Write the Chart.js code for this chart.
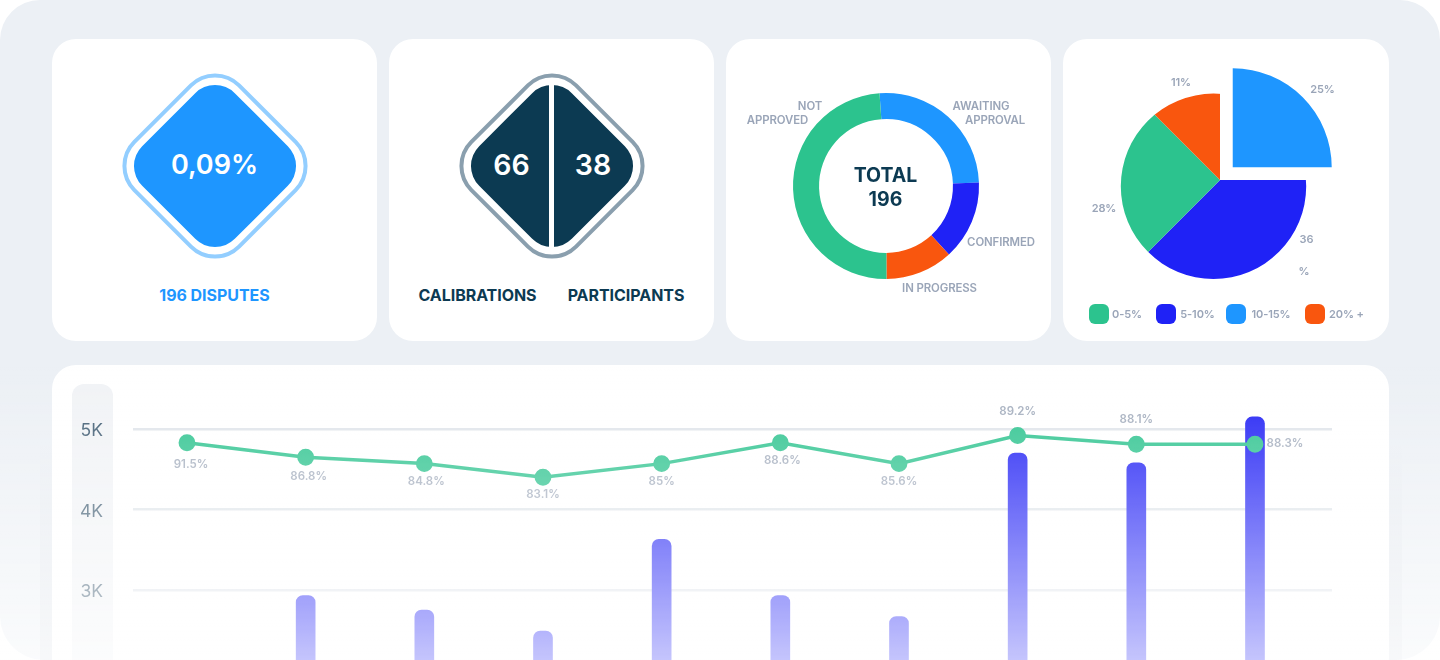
<!DOCTYPE html>
<html>
<head>
<meta charset="utf-8">
<title>Disputes dashboard</title>
<script src="https://cdn.jsdelivr.net/npm/chart.js@4"></script>
<style>
    html, body { margin: 0; padding: 0; width: 1440px; height: 660px; overflow: hidden; background: #fff; }
    body { position: relative; font-family: Inter, sans-serif; }
    .panel { position: absolute; left: 0; top: 0; width: 1440px; height: 660px; background: #ecf0f5; border-radius: 40px 40px 44px 44px; }
    .band { position: absolute; left: 40px; top: 440px; width: 1362px; height: 220px;
            background: linear-gradient(to bottom, rgba(100,110,130,0), rgba(100,110,130,0.09)); }
    .card { position: absolute; background: #fff; border-radius: 24px; }
    .diamond { position: absolute; transform: translate(-50%, -50%) rotate(45deg); box-sizing: border-box; }
    .split { position: absolute; left: 549.2px; top: 80px; width: 4.6px; height: 170px; background: #fff; }
    .txt { position: absolute; transform: translate(-50%, -50%); white-space: nowrap; }
    .big { font-size: 27px; font-weight: 600; color: #fff; }
    .big.count { font-size: 28.5px; }
    .name { font-size: 16px; font-weight: 700; letter-spacing: -0.05px; }
    .small { font-size: 11.4px; font-weight: 600; color: #9aa5b8; letter-spacing: -0.1px; }
    .small.pie { font-size: 11px; }
    .total { font-size: 19.5px; font-weight: 700; color: #0c3a52; line-height: 24px; text-align: center; }
    .swatch { position: absolute; width: 20px; height: 20px; border-radius: 6px; }
    .strip { position: absolute; left: 72px; top: 384px; width: 41px; height: 320px; background: #f1f3f6; border-radius: 12px 12px 0 0; }
    canvas { position: absolute; }
    .fade { position: absolute; left: 0; top: 365px; width: 1440px; height: 295px; pointer-events: none;
            background: linear-gradient(to bottom, rgba(255,255,255,0), rgba(255,255,255,0.74)); }
</style>
</head>
<body>
<div class="panel"></div>
<div class="band"></div>
<div class="card" style="left:52px;top:39px;width:325px;height:302px"></div>
<div class="card" style="left:389px;top:39px;width:325px;height:302px"></div>
<div class="card" style="left:726px;top:39px;width:325px;height:302px"></div>
<div class="card" style="left:1063px;top:39px;width:326px;height:302px"></div>
<div class="card" style="left:52px;top:365px;width:1337px;height:400px"></div>

<div class="diamond" style="left:214.5px;top:165.5px;width:152px;height:152px;border:4px solid #93ceff;border-radius:36px"></div>
<div class="diamond" style="left:214.5px;top:165.5px;width:131px;height:131px;background:#1e96ff;border-radius:28px"></div>
<div class="txt big" style="left:214.5px;top:164px">0,09%</div>
<div class="txt name" style="left:214.5px;top:295px;color:#1e96ff">196 DISPUTES</div>

<div class="diamond" style="left:551.5px;top:165.5px;width:152px;height:152px;border:4px solid #8a9fae;border-radius:36px"></div>
<div class="diamond" style="left:551.5px;top:165.5px;width:131px;height:131px;background:#0c3a52;border-radius:28px"></div>
<div class="split"></div>
<div class="txt big count" style="left:511.5px;top:164px">66</div>
<div class="txt big count" style="left:593px;top:164px">38</div>
<div class="txt name" style="left:477.5px;top:295px;color:#0c3a52">CALIBRATIONS</div>
<div class="txt name" style="left:626px;top:295px;color:#0c3a52">PARTICIPANTS</div>

<canvas id="grafico-estado" width="260" height="260" style="left:756px;top:56px;width:260px;height:260px"></canvas>
<div class="txt total" style="left:885.5px;top:187px">TOTAL<br>196</div>
<div class="txt small" style="left:810px;top:106px">NOT</div>
<div class="txt small" style="left:777.5px;top:120px">APPROVED</div>
<div class="txt small" style="left:981px;top:106px">AWAITING</div>
<div class="txt small" style="left:995px;top:120px">APPROVAL</div>
<div class="txt small" style="left:1001px;top:242px">CONFIRMED</div>
<div class="txt small" style="left:939.5px;top:288px">IN PROGRESS</div>

<canvas id="grafico-tramos" width="300" height="300" style="left:1070px;top:30px;width:300px;height:300px"></canvas>
<div class="txt small pie" style="left:1322.5px;top:88.5px">25%</div>
<div class="txt small pie" style="left:1181px;top:82px">11%</div>
<div class="txt small pie" style="left:1104px;top:208px">28%</div>
<div class="txt small pie" style="left:1306.5px;top:238.5px">36</div>
<div class="txt small pie" style="left:1304px;top:271px">%</div>
<div id="leyenda-tramos"></div>

<div class="strip"></div>
<canvas id="grafico-mensual" width="1337" height="480" style="left:52px;top:365px;width:1337px;height:480px"></canvas>
<div class="fade"></div>

<script>
// Doughnut: counts behind "TOTAL 196", clockwise from the top
const estadoValores = [50, 27, 23, 96];
const estadoColores = ['#1e96ff', '#1f22f6', '#f9560e', '#2cc38e'];

// Pie: slice sizes as drawn in the picture, clockwise from the top
// (the printed percentages are the html labels, they do not quite match the drawing)
const tramosValores = [25, 37.5, 25, 12.5];
const tramosColores = ['#1e96ff', '#1f22f6', '#2cc38e', '#f9560e'];
const tramosOffset = [72, 0, 0, 0];

// Pie legend
const leyendaNombres = ['0-5%', '5-10%', '10-15%', '20% +'];
const leyendaColores = ['#2cc38e', '#1f22f6', '#1e96ff', '#f9560e'];
const leyendaSwatchX = [1089, 1156, 1226, 1305];
const leyendaTextoX = [1127, 1197.5, 1271, 1346.5];

// Bottom chart, values in thousands
const periodos = [1, 2, 3, 4, 5, 6, 7, 8, 9, 10];
const barrasValores = [1.9, 2.93, 2.75, 2.49, 3.63, 2.93, 2.67, 4.7, 4.58, 5.15];
const lineaValores = [4.83, 4.65, 4.57, 4.4, 4.57, 4.83, 4.57, 4.92, 4.81, 4.81];
const lineaEtiquetas = ['91.5%', '86.8%', '84.8%', '83.1%', '85%', '88.6%', '85.6%', '89.2%', '88.1%', '88.3%'];
const lineaEtiquetasDesp = [[4, 22], [3, 19], [2, 18], [0, 17], [0, 18], [2, 18], [0, 18], [0, -24], [0, -25], [30, -1]];
const ejeYMarcas = [1, 2, 3, 4, 5];

Chart.defaults.font.family = 'Inter, sans-serif';
Chart.defaults.animation = false;
Chart.defaults.plugins.legend.display = false;
Chart.defaults.plugins.tooltip.enabled = false;

// Legend is plain html under the pie
const leyenda = document.getElementById('leyenda-tramos');
leyendaNombres.forEach((nombre, i) => {
    const swatch = document.createElement('div');
    swatch.className = 'swatch';
    swatch.style.left = leyendaSwatchX[i] + 'px';
    swatch.style.top = '304px';
    swatch.style.background = leyendaColores[i];
    leyenda.appendChild(swatch);
    const texto = document.createElement('div');
    texto.className = 'txt small pie';
    texto.style.left = leyendaTextoX[i] + 'px';
    texto.style.top = '314px';
    texto.textContent = nombre;
    leyenda.appendChild(texto);
});

new Chart(document.getElementById('grafico-estado'), {
    type: 'doughnut',
    data: {
        labels: ['AWAITING APPROVAL', 'CONFIRMED', 'IN PROGRESS', 'NOT APPROVED'],
        datasets: [{ data: estadoValores, backgroundColor: estadoColores, borderWidth: 0 }]
    },
    options: { responsive: false, rotation: -4, radius: 93, cutout: '72%' }
});

// In the reference the three joined slices meet off centre: their rim is a
// smaller circle than their wedges, so the wedges are oversized and clipped to it.
const recortarTramos = {
    id: 'recortarTramos',
    afterDatasetsUpdate(chart) {
        chart.getDatasetMeta(0).data[0].outerRadius = 99;
    },
    beforeDatasetDraw(chart) {
        const ctx = chart.ctx;
        ctx.save();
        ctx.beginPath();
        ctx.arc(143.5, 156.3, 92.7, 0, Math.PI * 2);
        ctx.rect(162, 30, 110, 108);
        ctx.clip();
    },
    afterDatasetDraw(chart) {
        chart.ctx.restore();
    }
};

new Chart(document.getElementById('grafico-tramos'), {
    type: 'pie',
    data: {
        labels: ['10-15%', '5-10%', '0-5%', '20% +'],
        datasets: [{ data: tramosValores, backgroundColor: tramosColores, offset: tramosOffset, borderWidth: 0 }]
    },
    options: { responsive: false, radius: 112 },
    plugins: [recortarTramos]
});

// Percent labels next to the line points
const etiquetasLinea = {
    id: 'etiquetasLinea',
    afterDatasetsDraw(chart) {
        const ctx = chart.ctx;
        const puntos = chart.getDatasetMeta(1).data;
        ctx.save();
        ctx.font = '600 11.5px Inter, sans-serif';
        ctx.fillStyle = '#a3adbd';
        ctx.textAlign = 'center';
        ctx.textBaseline = 'middle';
        puntos.forEach((punto, i) => {
            const desp = lineaEtiquetasDesp[i];
            ctx.fillText(lineaEtiquetas[i], punto.x + desp[0], punto.y + desp[1]);
        });
        ctx.restore();
    }
};

new Chart(document.getElementById('grafico-mensual'), {
    data: {
        datasets: [
            {
                type: 'bar',
                data: periodos.map((p, i) => ({ x: p, y: barrasValores[i] })),
                backgroundColor: '#2020f5',
                barThickness: 19,
                borderRadius: { topLeft: 7, topRight: 7 },
                borderSkipped: 'bottom',
                order: 2
            },
            {
                type: 'line',
                data: periodos.map((p, i) => ({ x: p, y: lineaValores[i] })),
                borderColor: '#2cc38e',
                backgroundColor: '#2cc38e',
                borderWidth: 3.5,
                pointRadius: 6.7,
                tension: 0,
                order: 1
            }
        ]
    },
    options: {
        responsive: false,
        layout: { autoPadding: false, padding: { top: 23.75, bottom: 13.5, right: 57, left: 0 } },
        scales: {
            x: { type: 'linear', display: false, offset: false, min: 0.545, max: 10.649 },
            y: {
                min: 0,
                max: 5.5,
                afterBuildTicks(axis) { axis.ticks = ejeYMarcas.map(value => ({ value })); },
                afterFit(axis) {
                    axis.width = 81;
                    axis.paddingTop = 0;
                    axis.paddingBottom = 0;
                },
                border: { display: false },
                grid: { color: '#dfe4ea', lineWidth: 2.5, drawTicks: false },
                ticks: {
                    padding: 30,
                    labelOffset: 2,
                    color: '#3d5a70',
                    font: { size: 17.5, weight: '400' },
                    callback: value => value + 'K'
                }
            }
        }
    },
    plugins: [etiquetasLinea]
});
</script>
</body>
</html>
